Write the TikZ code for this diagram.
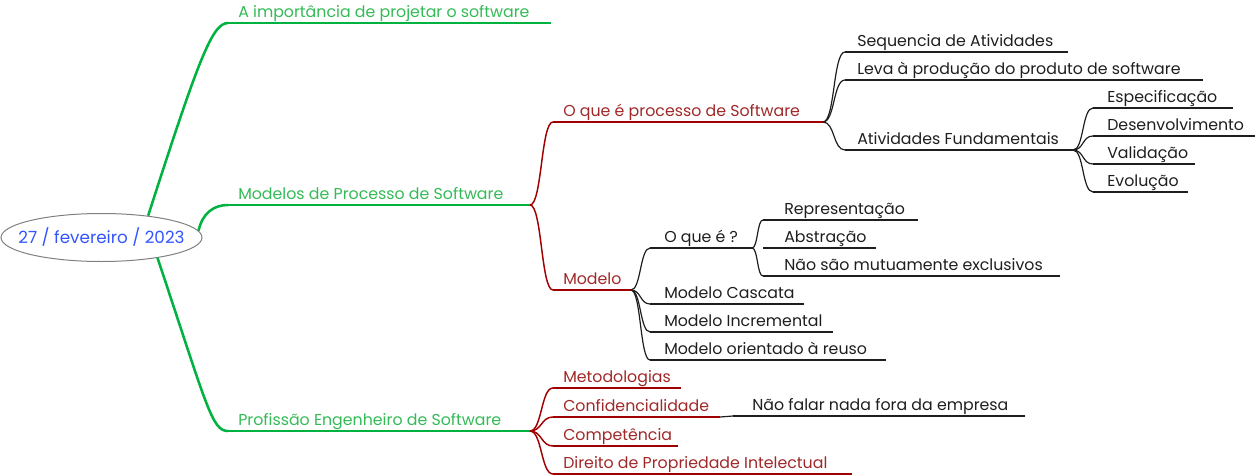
\documentclass[tikz,border=0pt]{standalone}
\usepackage{fontspec}
\setmainfont{Poppins}
\usepackage{tikz}
\usetikzlibrary{shapes.geometric}
\definecolor{mmgreen}{RGB}{0,178,64}
\definecolor{mmgreentxt}{RGB}{52,186,86}
\definecolor{mmred}{RGB}{160,0,0}
\definecolor{mmredtxt}{RGB}{160,40,40}
\definecolor{mmblack}{RGB}{30,30,30}
\definecolor{mmblue}{RGB}{51,85,255}

\begin{document}
\begin{tikzpicture}[x=0.75pt,y=0.75pt,yscale=-1,
    grnln/.style={color=mmgreen, line width=1.9pt},
    redln/.style={color=mmred, line width=1.1pt},
    blkln/.style={color=mmblack, line width=0.9pt},
    txt/.style={anchor=base west, inner sep=0.75pt, font=\fontsize{11.85}{13}\selectfont},
    grntxt/.style={txt, text=mmgreentxt},
    redtxt/.style={txt, text=mmredtxt},
    blktxt/.style={txt, text=mmblack}]
        %set diagram to 1255 x 475
        \useasboundingbox (0,0) rectangle (1255,475);

        %Shape: Ellipse [id:root]
        \draw (101.5,237.5) node [ellipse, draw=gray, line width=0.75pt, fill=white, inner sep=0pt, minimum width=150.75pt, minimum height=36pt] (root) {};
        % Text Node
        \draw (root.center) node [inner sep=0pt, text=mmblue, font=\fontsize{12.6}{14}\selectfont] (rootlbl) {27 / fevereiro / 2023};

        %Underlines
        \coordinate (impL) at (228,23);  \coordinate (impR) at (551,23);
        \coordinate (mpsL) at (228,205); \coordinate (mpsR) at (530,205);
        \coordinate (pesL) at (228,431); \coordinate (pesR) at (530,431);
        \coordinate (oqpL) at (553,122); \coordinate (oqpR) at (823,122);
        \coordinate (modL) at (553,290); \coordinate (modR) at (631,290);
        \coordinate (metL) at (553,388); \coordinate (metR) at (681,388);
        \coordinate (confL) at (553,417); \coordinate (confR) at (720,417);
        \coordinate (compL) at (553,446); \coordinate (compR) at (678,446);
        \coordinate (dirL) at (553,474); \coordinate (dirR) at (852,474);
        \coordinate (seqL) at (845,52);  \coordinate (seqR) at (1068,52);
        \coordinate (levaL) at (845,80); \coordinate (levaR) at (1203,80);
        \coordinate (ativL) at (845,150); \coordinate (ativR) at (1073,150);
        \coordinate (espL) at (1093,108); \coordinate (espR) at (1233,108);
        \coordinate (desL) at (1093,136); \coordinate (desR) at (1255,136);
        \coordinate (valL) at (1093,164); \coordinate (valR) at (1195,164);
        \coordinate (evoL) at (1093,192); \coordinate (evoR) at (1188,192);
        \coordinate (oqeL) at (650,248); \coordinate (oqeR) at (752,248);
        \coordinate (repL) at (763,220); \coordinate (repR) at (918,220);
        \coordinate (absL) at (763,248); \coordinate (absR) at (876,248);
        \coordinate (naoL) at (763,276); \coordinate (naoR) at (1060,276);
        \coordinate (casL) at (650,304); \coordinate (casR) at (804,304);
        \coordinate (incL) at (650,332); \coordinate (incR) at (833,332);
        \coordinate (reuL) at (650,360); \coordinate (reuR) at (886,360);
        \coordinate (nfL) at (733,416);  \coordinate (nfR) at (1025,416);

        \draw [grnln] (impL) -- (impR);
        \draw [grnln] (mpsL) -- (mpsR);
        \draw [grnln] (pesL) -- (pesR);
        \draw [redln] (oqpL) -- (oqpR);
        \draw [redln] (modL) -- (modR);
        \draw [redln] (metL) -- (metR);
        \draw [redln] (confL) -- (confR);
        \draw [redln] (compL) -- (compR);
        \draw [redln] (dirL) -- (dirR);
        \draw [blkln] (seqL) -- (seqR);
        \draw [blkln] (levaL) -- (levaR);
        \draw [blkln] (ativL) -- (ativR);
        \draw [blkln] (espL) -- (espR);
        \draw [blkln] (desL) -- (desR);
        \draw [blkln] (valL) -- (valR);
        \draw [blkln] (evoL) -- (evoR);
        \draw [blkln] (oqeL) -- (oqeR);
        \draw [blkln] (repL) -- (repR);
        \draw [blkln] (absL) -- (absR);
        \draw [blkln] (naoL) -- (naoR);
        \draw [blkln] (casL) -- (casR);
        \draw [blkln] (incL) -- (incR);
        \draw [blkln] (reuL) -- (reuR);
        \draw [blkln] (nfL) -- (nfR);

        %Curve Lines (root)
        \draw [grnln] (root.25) .. controls +(50,-155) and +(-16,0) .. (impL);
        \draw [grnln] (root.4) .. controls +(4,-18) and +(-14,0) .. (mpsL);
        \draw [grnln] (root.-20) .. controls +(50,150) and +(-16,0) .. (pesL);
        %Curve Lines (red)
        \draw [redln] (mpsR) .. controls +(12,0) and +(-12,0) .. (oqpL);
        \draw [redln] (mpsR) .. controls +(12,0) and +(-12,0) .. (modL);
        \draw [redln] (pesR) .. controls +(12,0) and +(-12,0) .. (metL);
        \draw [redln] (pesR) .. controls +(12,0) and +(-12,0) .. (confL);
        \draw [redln] (pesR) .. controls +(12,0) and +(-12,0) .. (compL);
        \draw [redln] (pesR) .. controls +(12,0) and +(-12,0) .. (dirL);
        %Curve Lines (black)
        \draw [blkln] (oqpR) .. controls +(12,0) and +(-12,0) .. (seqL);
        \draw [blkln] (oqpR) .. controls +(12,0) and +(-12,0) .. (levaL);
        \draw [blkln] (oqpR) .. controls +(12,0) and +(-12,0) .. (ativL);
        \draw [blkln] (ativR) .. controls +(11,0) and +(-11,0) .. (espL);
        \draw [blkln] (ativR) .. controls +(11,0) and +(-11,0) .. (desL);
        \draw [blkln] (ativR) .. controls +(11,0) and +(-11,0) .. (valL);
        \draw [blkln] (ativR) .. controls +(11,0) and +(-11,0) .. (evoL);
        \draw [blkln] (modR) .. controls +(10,0) and +(-10,0) .. (oqeL);
        \draw [blkln] (modR) .. controls +(10,0) and +(-10,0) .. (casL);
        \draw [blkln] (modR) .. controls +(10,0) and +(-10,0) .. (incL);
        \draw [blkln] (modR) .. controls +(10,0) and +(-10,0) .. (reuL);
        \draw [blkln] (oqeR) .. controls +(6,0) and +(-6,0) .. (repL);
        \draw [blkln] (oqeR) .. controls +(6,0) and +(-6,0) .. (naoL);
        \draw [blkln] (confR) .. controls +(7,0) and +(-7,0) .. (nfL);

        % Text Node
        \draw (237,17) node [grntxt] (imp) {A importância de projetar o software};
        % Text Node
        \draw (237,199) node [grntxt] (mps) {Modelos de Processo de Software};
        % Text Node
        \draw (237,425) node [grntxt] (pes) {Profissão Engenheiro de Software};
        % Text Node
        \draw (562,116) node [redtxt] (oqp) {O que é processo de Software};
        % Text Node
        \draw (562,284) node [redtxt] (mod) {Modelo};
        % Text Node
        \draw (562,382) node [redtxt] (met) {Metodologias};
        % Text Node
        \draw (562,411) node [redtxt] (conf) {Confidencialidade};
        % Text Node
        \draw (562,440) node [redtxt] (comp) {Competência};
        % Text Node
        \draw (562,468) node [redtxt] (dir) {Direito de Propriedade Intelectual};
        % Text Node
        \draw (856,46) node [blktxt] (seq) {Sequencia de Atividades};
        % Text Node
        \draw (856,74) node [blktxt] (leva) {Leva à produção do produto de software};
        % Text Node
        \draw (856,144) node [blktxt] (ativ) {Atividades Fundamentais};
        % Text Node
        \draw (1106,102) node [blktxt] (esp) {Especificação};
        % Text Node
        \draw (1106,130) node [blktxt] (des) {Desenvolvimento};
        % Text Node
        \draw (1106,158) node [blktxt] (val) {Validação};
        % Text Node
        \draw (1106,186) node [blktxt] (evo) {Evolução};
        % Text Node
        \draw (663,242) node [blktxt] (oqe) {O que é ?};
        % Text Node
        \draw (783,214) node [blktxt] (rep) {Representação};
        % Text Node
        \draw (783,242) node [blktxt] (abs) {Abstração};
        % Text Node
        \draw (783,270) node [blktxt] (nao) {Não são mutuamente exclusivos};
        % Text Node
        \draw (663,298) node [blktxt] (cas) {Modelo Cascata};
        % Text Node
        \draw (663,326) node [blktxt] (inc) {Modelo Incremental};
        % Text Node
        \draw (663,354) node [blktxt] (reu) {Modelo orientado à reuso};
        % Text Node
        \draw (751,410) node [blktxt] (nf) {Não falar nada fora da empresa};

\end{tikzpicture}
\end{document}
